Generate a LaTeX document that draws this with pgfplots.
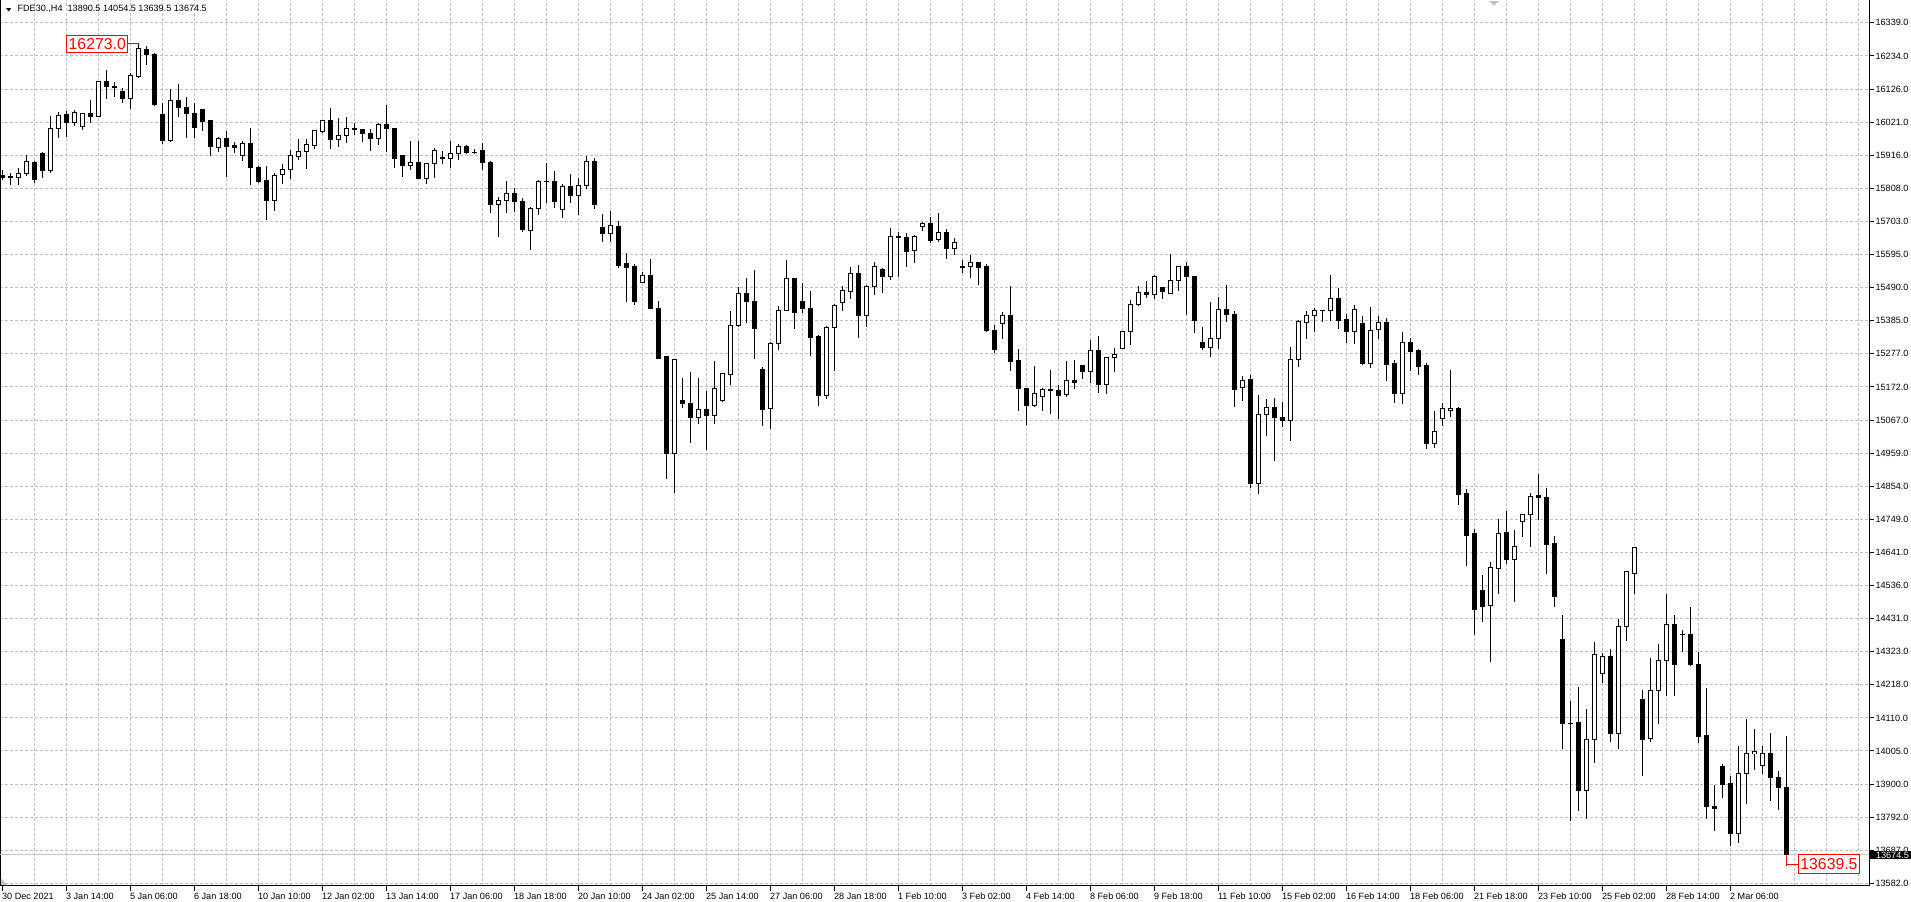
\documentclass[border=0pt]{standalone}
\usepackage{pgfplots}
\usepackage{pgfplotstable}
\pgfplotsset{compat=1.18}
\usepackage{fontspec}
\setmainfont{Liberation Sans}

\pgfplotstableread{
i O H L C
0 15850 15869 15835 15846
1 15846 15860 15820 15848
2 15845 15875 15822 15858
3 15858 15916 15849 15897
4 15893 15898 15826 15838
5 15922 15926 15844 15868
6 15868 16042 15858 16002
7 16002 16055 15972 16044
8 16048 16059 15975 16020
9 16020 16061 16008 16054
10 16008 16052 15997 16050
11 16050 16093 16020 16040
12 16040 16155 16037 16153
13 16153 16189 16096 16136
14 16137 16152 16104 16135
15 16119 16132 16084 16097
16 16097 16181 16065 16172
17 16168 16273 16165 16259
18 16255 16266 16204 16239
19 16240 16243 16074 16077
20 16047 16085 15953 15964
21 15964 16127 15958 16092
22 16092 16144 16037 16070
23 16070 16104 15972 16049
24 16050 16082 15972 16004
25 16061 16063 15995 16024
26 16026 16027 15915 15944
27 15941 15973 15927 15970
28 15970 15994 15847 15944
29 15946 15960 15922 15940
30 15916 15961 15899 15954
31 15954 16002 15822 15877
32 15878 15882 15826 15831
33 15834 15882 15708 15771
34 15771 15858 15738 15852
35 15855 15887 15823 15871
36 15871 15933 15841 15914
37 15912 15967 15901 15929
38 15928 15967 15873 15949
39 15948 15997 15935 15994
40 15992 16029 15986 16026
41 16026 16067 15937 15966
42 15967 16035 15943 15980
43 15980 16039 15956 16002
44 16001 16020 15980 15998
45 15999 16000 15959 15985
46 15986 16000 15931 15969
47 15970 16020 15948 16015
48 16015 16077 15926 16001
49 16002 16004 15876 15905
50 15914 15916 15847 15883
51 15884 15962 15867 15893
52 15893 15962 15839 15841
53 15842 15891 15823 15890
54 15890 15938 15844 15932
55 15909 15930 15887 15905
56 15905 15962 15876 15922
57 15922 15952 15900 15945
58 15945 15948 15919 15924
59 15925 15936 15920 15925
60 15930 15955 15867 15893
61 15894 15897 15732 15758
62 15759 15781 15655 15772
63 15771 15834 15732 15794
64 15794 15810 15734 15767
65 15768 15778 15671 15678
66 15676 15751 15613 15746
67 15746 15837 15726 15832
68 15832 15892 15764 15833
69 15833 15866 15748 15767
70 15743 15824 15716 15816
71 15816 15857 15764 15787
72 15788 15843 15726 15820
73 15820 15914 15807 15897
74 15897 15906 15745 15758
75 15686 15728 15639 15665
76 15665 15737 15639 15692
77 15689 15705 15553 15562
78 15568 15602 15447 15557
79 15558 15568 15436 15447
80 15509 15542 15508 15531
81 15532 15584 15422 15424
82 15426 15448 15264 15266
83 15270 15272 14880 14961
84 14961 15264 14833 15262
85 15131 15201 15107 15121
86 15121 15222 14993 15076
87 15076 15202 15054 15102
88 15102 15161 14973 15083
89 15083 15257 15054 15169
90 15131 15217 15126 15216
91 15214 15416 15181 15371
92 15371 15494 15367 15474
93 15474 15524 15378 15447
94 15448 15547 15262 15361
95 15228 15239 15050 15102
96 15105 15318 15038 15313
97 15313 15433 15293 15419
98 15419 15580 15418 15522
99 15522 15524 15358 15412
100 15448 15506 15410 15424
101 15426 15480 15274 15332
102 15334 15339 15114 15146
103 15146 15369 15136 15365
104 15365 15438 15224 15435
105 15445 15497 15418 15483
106 15480 15557 15454 15538
107 15538 15563 15332 15402
108 15402 15499 15365 15494
109 15495 15573 15469 15560
110 15551 15555 15476 15527
111 15527 15682 15515 15656
112 15655 15670 15527 15652
113 15653 15666 15559 15607
114 15611 15660 15572 15656
115 15688 15703 15674 15698
116 15698 15718 15634 15642
117 15645 15732 15639 15667
118 15667 15679 15583 15617
119 15618 15650 15597 15637
120 15560 15580 15540 15558
121 15560 15596 15521 15573
122 15573 15575 15501 15556
123 15561 15568 15350 15354
124 15355 15372 15283 15293
125 15376 15414 15328 15403
126 15403 15497 15226 15255
127 15257 15295 15098 15168
128 15169 15171 15053 15114
129 15114 15241 15110 15153
130 15143 15169 15096 15166
131 15163 15228 15086 15165
132 15161 15180 15072 15146
133 15149 15257 15143 15195
134 15195 15260 15168 15187
135 15243 15245 15200 15223
136 15223 15324 15185 15291
137 15291 15337 15155 15181
138 15181 15271 15152 15268
139 15268 15298 15223 15278
140 15297 15352 15296 15351
141 15351 15452 15309 15438
142 15438 15497 15434 15477
143 15477 15513 15460 15470
144 15470 15531 15457 15528
145 15491 15495 15457 15480
146 15474 15600 15470 15516
147 15516 15562 15480 15559
148 15559 15574 15404 15526
149 15527 15528 15347 15385
150 15315 15366 15293 15300
151 15300 15446 15270 15330
152 15330 15463 15295 15422
153 15422 15501 15382 15406
154 15407 15417 15108 15165
155 15172 15208 15129 15195
156 15197 15212 14850 14863
157 14863 15148 14830 15086
158 15086 15135 15017 15107
159 15107 15138 14937 15075
160 15077 15125 15045 15065
161 15065 15302 15000 15263
162 15263 15388 15239 15382
163 15379 15417 15328 15401
164 15401 15426 15350 15419
165 15419 15421 15382 15419
166 15419 15533 15384 15458
167 15458 15491 15360 15386
168 15391 15408 15315 15351
169 15351 15436 15312 15422
170 15376 15401 15243 15249
171 15249 15430 15234 15355
172 15358 15401 15328 15381
173 15381 15394 15193 15245
174 15250 15259 15122 15152
175 15152 15350 15118 15315
176 15315 15330 15226 15287
177 15289 15294 15212 15239
178 15241 15249 14975 14991
179 14991 15097 14978 15030
180 15073 15122 15049 15103
181 15099 15228 15078 15105
182 15106 15108 14796 14830
183 14832 14847 14599 14699
184 14704 14719 14380 14459
185 14521 14570 14421 14471
186 14472 14614 14294 14594
187 14593 14751 14509 14703
188 14707 14775 14606 14622
189 14620 14715 14486 14664
190 14742 14766 14692 14764
191 14764 14834 14660 14822
192 14825 14895 14749 14819
193 14820 14849 14573 14669
194 14671 14697 14468 14502
195 14363 14444 14013 14095
196 14095 14168 13782 14096
197 14099 14212 13814 13882
198 13882 14142 13791 14044
199 14044 14356 13968 14315
200 14257 14322 14226 14311
201 14311 14334 14037 14063
202 14063 14429 14013 14405
203 14405 14583 14361 14581
204 14577 14662 14509 14658
205 14172 14202 13927 14043
206 14048 14305 14035 14201
207 14201 14350 14095 14297
208 14297 14511 14182 14413
209 14413 14442 14182 14285
210 14382 14396 14323 14380
211 14382 14469 14278 14284
212 14285 14324 14034 14055
213 14056 14209 13789 13830
214 13831 13898 13751 13823
215 13958 13964 13857 13901
216 13903 13928 13702 13744
217 13744 14023 13713 13934
218 13934 14111 13838 13998
219 13998 14078 13947 14005
220 13960 14023 13934 13998
221 13998 14064 13847 13921
222 13921 13942 13818 13889
223 13890.5 14054.5 13639.5 13674.5
}\candles

\newcommand{\tfont}{\fontsize{4.55}{5.5}\selectfont}

\begin{document}
\begin{tikzpicture}
\useasboundingbox (0,0) rectangle (955.5pt,-450.5pt);
\begin{axis}[
  at={(0pt,0pt)}, anchor=north west,
  scale only axis, width=934.5pt, height=443pt,
  xmin=-0.34, xmax=233.29, ymin=13574.7, ymax=16413.4,
  axis line style={line width=0.5pt, black},
  xtick={0,8,...,216},
  xticklabels={30 Dec 2021,3 Jan 14:00,5 Jan 06:00,6 Jan 18:00,10 Jan 10:00,12 Jan 02:00,13 Jan 14:00,17 Jan 06:00,18 Jan 18:00,20 Jan 10:00,24 Jan 02:00,25 Jan 14:00,27 Jan 06:00,28 Jan 18:00,1 Feb 10:00,3 Feb 02:00,4 Feb 14:00,8 Feb 06:00,9 Feb 18:00,11 Feb 10:00,15 Feb 02:00,16 Feb 14:00,18 Feb 06:00,21 Feb 18:00,23 Feb 10:00,25 Feb 02:00,28 Feb 14:00,2 Mar 06:00},
  minor xtick={4,8,...,232},
  ytick={13582.96,13689.0,13795.04,13901.08,14007.12,14113.16,14219.2,14325.24,14431.28,14537.32,14643.36,14749.4,14855.44,14961.48,15067.52,15173.56,15279.6,15385.64,15491.68,15597.72,15703.76,15809.8,15915.84,16021.88,16127.92,16233.96,16340.0},
  yticklabels={13582.0,13687.0,13792.0,13900.0,14005.0,14110.0,14218.0,14323.0,14431.0,14536.0,14641.0,14749.0,14854.0,14959.0,15067.0,15172.0,15277.0,15385.0,15490.0,15595.0,15703.0,15808.0,15916.0,16021.0,16126.0,16234.0,16339.0},
  xtick pos=left, ytick pos=right, yticklabel pos=right,
  tick align=outside, major tick length=2.5pt, minor tick length=0pt,
  tick style={line width=0.5pt, black},
  xmajorgrids=false, xminorgrids=true, ymajorgrids=true,
  major grid style={gray!50, line width=0.5pt, dash pattern=on 1.5pt off 1pt},
  minor grid style={gray!50, line width=0.5pt, dash pattern=on 1.5pt off 1pt},
  tick label style={font=\tfont, inner sep=0pt},
  xticklabel style={anchor=north west, xshift=-0.5pt, yshift=-0.8pt},
  yticklabel style={anchor=west, xshift=0.6pt},
]
\addplot[forget plot, gray!45, line width=0.5pt] coordinates {(-0.34,13674.5) (233.29,13674.5)};
% wicks
\addplot[forget plot, draw=none, mark=none,
  error bars/.cd, y dir=both, y explicit, error mark=none,
  error bar style={draw=black, line width=0.5pt, solid}]
  table[x=i, y expr={\thisrow{H}/2+\thisrow{L}/2}, y error expr={\thisrow{H}/2-\thisrow{L}/2}] {\candles};
% bodies (outline / black fill)
\addplot[forget plot, draw=none, mark=none,
  error bars/.cd, y dir=both, y explicit, error mark=none,
  error bar style={draw=black, line width=2.5pt, solid}]
  table[x=i, y expr={\thisrow{O}/2+\thisrow{C}/2}, y error expr={abs(\thisrow{C}-\thisrow{O})/2+1.6}] {\candles};
% white interior of rising candles
\addplot[forget plot, draw=none, mark=none,
  error bars/.cd, y dir=both, y explicit, error mark=none,
  error bar style={draw=white, line width=1.5pt, solid}]
  table[x=i, y expr={\thisrow{C}>\thisrow{O} ? \thisrow{O}/2+\thisrow{C}/2 : 0}, y error expr={max(abs(\thisrow{C}-\thisrow{O})/2-1.6,0)}] {\candles};

\draw[red, line width=0.5pt] (axis cs:15.7,16273) -- (axis cs:17,16273);
\node[draw=red, line width=0.5pt, fill=white, text=red, font=\fontsize{7.9}{9}\selectfont, inner xsep=1pt, inner ysep=0pt, minimum height=8.6pt, anchor=east] at (axis cs:15.7,16273) {16273.0};
\draw[red, line width=0.5pt] (axis cs:223,13674.5) -- (axis cs:223,13645) -- (axis cs:224.4,13645);
\node[draw=red, line width=0.5pt, fill=white, text=red, font=\fontsize{7.9}{9}\selectfont, inner xsep=1pt, inner ysep=0pt, minimum height=9.2pt, anchor=west] at (axis cs:224.4,13645) {13639.5};
\coordinate (bidR) at (axis cs:233.29,13674.5);
\end{axis}
\fill[black] (bidR) ++(0.3pt,2.1pt) rectangle ++(21pt,-4.2pt);
\node[anchor=west, text=white, font=\tfont, inner sep=0pt] at ([xshift=3.3pt]bidR) {13674.5};
\fill[black] (3pt,-4pt) -- (5.65pt,-4pt) -- (4.33pt,-5.65pt) -- cycle;
\node[anchor=west, inner sep=0pt, font=\tfont] at (8.6pt,-4.65pt) {FDE30.,H4\ \ 13890.5 14054.5 13639.5 13674.5};
\fill[gray!50] (744.5pt,-0.4pt) -- (749.5pt,-0.4pt) -- (747pt,-2.8pt) -- cycle;
\fill[gray!50] (0.4pt,-439pt) -- (0.4pt,-442.6pt) -- (3.4pt,-442.6pt) -- cycle;
\end{tikzpicture}
\end{document}
